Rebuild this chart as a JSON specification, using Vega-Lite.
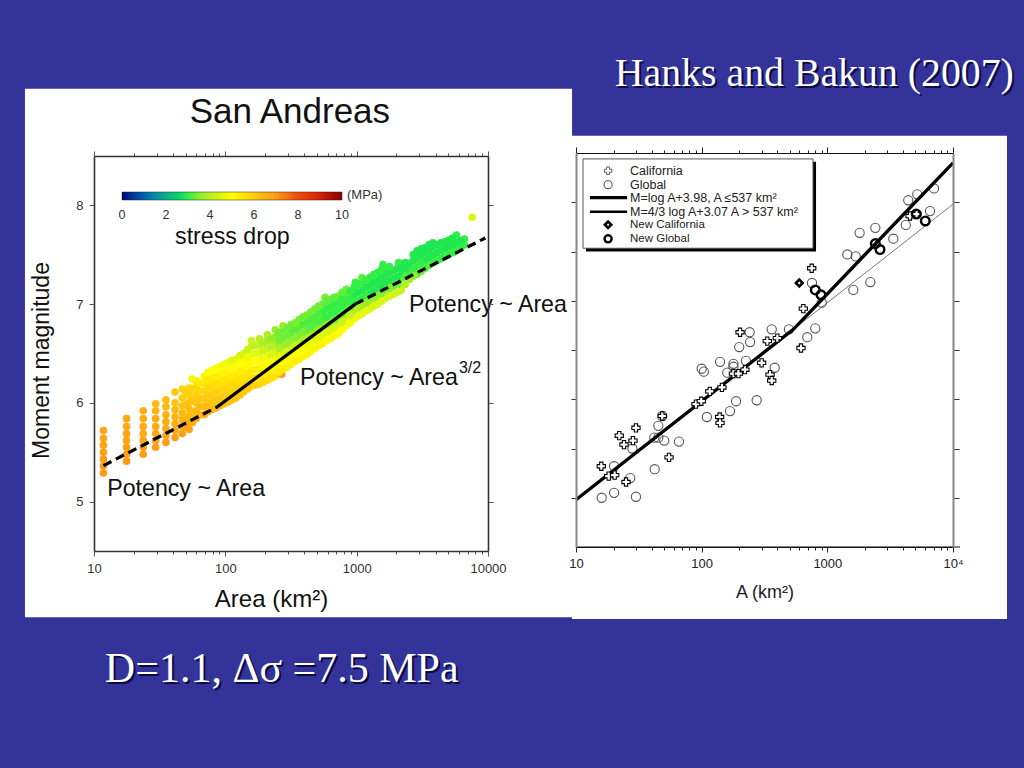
{"$schema":"https://vega.github.io/schema/vega-lite/v6.json","width":1024,"height":768,"padding":0,"autosize":{"type":"none"},"background":"#333399","config":{"view":{"stroke":null},"axis":{"grid":false},"text":{"font":"Liberation Sans","baseline":"alphabetic"}},
"resolve":{"scale":{"x":"independent","y":"independent","color":"independent"},"axis":{"x":"independent","y":"independent"}},
"datasets":{
"scatter":[
{"a":11.8,"m":5.29,"s":7},{"a":11.8,"m":5.36,"s":7},{"a":11.8,"m":5.43,"s":6.9},{"a":11.8,"m":5.5,"s":6.9},{"a":11.8,"m":5.57,"s":6.8},{"a":11.8,"m":5.64,"s":6.8},{"a":11.8,"m":5.72,"s":6.8},
{"a":17.7,"m":5.41,"s":7},{"a":17.7,"m":5.48,"s":7},{"a":17.7,"m":5.55,"s":6.9},{"a":17.7,"m":5.62,"s":6.8},{"a":17.7,"m":5.69,"s":6.8},{"a":17.7,"m":5.76,"s":6.7},{"a":17.7,"m":5.84,"s":6.7},
{"a":23.7,"m":5.48,"s":7},{"a":23.7,"m":5.55,"s":6.9},{"a":23.7,"m":5.62,"s":6.8},{"a":23.7,"m":5.69,"s":6.7},{"a":23.7,"m":5.76,"s":6.7},{"a":23.7,"m":5.84,"s":6.6},{"a":23.7,"m":5.92,"s":6.6},
{"a":29.5,"m":5.55,"s":6.9},{"a":29.5,"m":5.62,"s":6.8},{"a":29.5,"m":5.69,"s":6.7},{"a":29.5,"m":5.76,"s":6.7},{"a":29.5,"m":5.84,"s":6.6},{"a":29.5,"m":5.92,"s":6.5},{"a":29.5,"m":5.99,"s":6.4},
{"a":35.3,"m":5.6,"s":6.9},{"a":35.3,"m":5.67,"s":6.8},{"a":35.3,"m":5.74,"s":6.7},{"a":35.3,"m":5.81,"s":6.6},{"a":35.3,"m":5.88,"s":6.5},{"a":35.3,"m":5.96,"s":6.4},{"a":35.3,"m":6.03,"s":6.3},
{"a":41.4,"m":5.65,"s":6.9},{"a":41.4,"m":5.72,"s":6.7},{"a":41.4,"m":5.79,"s":6.6},{"a":41.4,"m":5.86,"s":6.5},{"a":41.4,"m":5.93,"s":6.4},{"a":41.4,"m":6.0,"s":6.2},{"a":41.4,"m":6.11,"s":6.1},
{"a":47,"m":5.69,"s":6.9},{"a":47,"m":5.76,"s":6.7},{"a":47,"m":5.83,"s":6.5},{"a":47,"m":5.9,"s":6.4},{"a":47,"m":5.97,"s":6.2},{"a":47,"m":6.05,"s":6},{"a":47,"m":6.14,"s":5.9},
{"a":53,"m":5.73,"s":6.8},{"a":53,"m":5.8,"s":6.6},{"a":53,"m":5.87,"s":6.4},{"a":53,"m":5.94,"s":6.3},{"a":53,"m":6.01,"s":6.1},{"a":53,"m":6.08,"s":5.9},{"a":53,"m":6.15,"s":5.7},
{"a":60,"m":5.84,"s":6.6},{"a":60,"m":5.92,"s":6.4},{"a":60,"m":6,"s":6.2},{"a":60,"m":6.08,"s":6},{"a":60,"m":6.16,"s":5.7},{"a":60,"m":6.22,"s":5.4},
{"a":69,"m":5.88,"s":6.5},{"a":69,"m":5.96,"s":6.3},{"a":69,"m":6.04,"s":6.1},{"a":69,"m":6.12,"s":5.8},{"a":69,"m":6.2,"s":5.5},{"a":69,"m":6.27,"s":5.2},
{"a":79,"m":5.93,"s":6.4},{"a":79,"m":6.01,"s":6.2},{"a":79,"m":6.09,"s":6},{"a":79,"m":6.17,"s":5.7},{"a":79,"m":6.25,"s":5.4},{"a":79,"m":6.33,"s":5},
{"a":91,"m":5.97,"s":6.4},{"a":91,"m":6.05,"s":6.1},{"a":91,"m":6.13,"s":5.9},{"a":91,"m":6.21,"s":5.6},{"a":91,"m":6.29,"s":5.3},{"a":91,"m":6.37,"s":4.9},
{"a":105,"m":6.01,"s":6.3},{"a":105,"m":6.09,"s":6},{"a":105,"m":6.17,"s":5.8},{"a":105,"m":6.25,"s":5.5},{"a":105,"m":6.33,"s":5.2},{"a":105,"m":6.41,"s":4.7},
{"a":120,"m":6.05,"s":6.2},{"a":120,"m":6.13,"s":5.9},{"a":120,"m":6.21,"s":5.7},{"a":120,"m":6.29,"s":5.4},{"a":120,"m":6.37,"s":5},{"a":120,"m":6.44,"s":4.6},
{"a":138,"m":6.11,"s":6.1},{"a":138,"m":6.19,"s":5.8},{"a":138,"m":6.27,"s":5.5},{"a":138,"m":6.35,"s":5.2},{"a":138,"m":6.43,"s":4.9},{"a":138,"m":6.5,"s":4.4},
{"a":158,"m":6.17,"s":6},{"a":158,"m":6.25,"s":5.7},{"a":158,"m":6.33,"s":5.4},{"a":158,"m":6.41,"s":5.1},{"a":158,"m":6.49,"s":4.7},{"a":158,"m":6.57,"s":4.2},{"a":158,"m":6.63,"s":4.3},
{"a":182,"m":6.19,"s":5.8},{"a":182,"m":6.27,"s":5.5},{"a":182,"m":6.35,"s":5.2},{"a":182,"m":6.43,"s":4.9},{"a":182,"m":6.51,"s":4.5},{"a":182,"m":6.59,"s":4},{"a":182,"m":6.65,"s":4},
{"a":209,"m":6.23,"s":5.6},{"a":209,"m":6.31,"s":5.3},{"a":209,"m":6.39,"s":5.1},{"a":209,"m":6.47,"s":4.7},{"a":209,"m":6.55,"s":4.2},{"a":209,"m":6.63,"s":3.8},{"a":209,"m":6.69,"s":3.9},
{"a":240,"m":6.27,"s":5.5},{"a":240,"m":6.35,"s":5.2},{"a":240,"m":6.43,"s":4.9},{"a":240,"m":6.51,"s":4.4},{"a":240,"m":6.59,"s":3.8},{"a":240,"m":6.67,"s":3.5},{"a":240,"m":6.74,"s":3.7},
{"a":269,"m":6.29,"s":6.9},{"a":275,"m":6.34,"s":5.3},{"a":275,"m":6.42,"s":5.1},{"a":275,"m":6.5,"s":4.5},{"a":275,"m":6.58,"s":3.8},{"a":275,"m":6.66,"s":3.3},{"a":275,"m":6.74,"s":3.3},{"a":275,"m":6.78,"s":3.7},
{"a":316,"m":6.39,"s":5.3},{"a":316,"m":6.47,"s":5},{"a":316,"m":6.55,"s":4.3},{"a":316,"m":6.63,"s":3.6},{"a":316,"m":6.71,"s":3.2},{"a":316,"m":6.79,"s":3.3},
{"a":363,"m":6.44,"s":5.3},{"a":363,"m":6.52,"s":4.9},{"a":363,"m":6.6,"s":4.1},{"a":363,"m":6.68,"s":3.4},{"a":363,"m":6.76,"s":3.2},{"a":363,"m":6.84,"s":3.4},
{"a":417,"m":6.49,"s":5.2},{"a":417,"m":6.57,"s":4.8},{"a":417,"m":6.65,"s":3.9},{"a":417,"m":6.73,"s":3.3},{"a":417,"m":6.81,"s":3.1},{"a":417,"m":6.89,"s":3.4},
{"a":479,"m":6.55,"s":5.2},{"a":479,"m":6.63,"s":4.7},{"a":479,"m":6.71,"s":3.7},{"a":479,"m":6.79,"s":3.2},{"a":479,"m":6.87,"s":3.1},{"a":479,"m":6.95,"s":3.4},
{"a":550,"m":6.6,"s":5.2},{"a":550,"m":6.68,"s":4.6},{"a":550,"m":6.76,"s":3.6},{"a":550,"m":6.84,"s":3.1},{"a":550,"m":6.92,"s":3},{"a":550,"m":7,"s":3.3},{"a":575,"m":7.07,"s":3.4},
{"a":631,"m":6.65,"s":5.1},{"a":631,"m":6.73,"s":4.5},{"a":631,"m":6.81,"s":3.5},{"a":631,"m":6.89,"s":3},{"a":631,"m":6.97,"s":3},{"a":631,"m":7.05,"s":3.3},
{"a":724,"m":6.7,"s":5.1},{"a":724,"m":6.78,"s":4.4},{"a":724,"m":6.86,"s":3.4},{"a":724,"m":6.94,"s":3},{"a":724,"m":7.02,"s":3},{"a":724,"m":7.08,"s":3.3},
{"a":832,"m":6.78,"s":5},{"a":832,"m":6.86,"s":4.3},{"a":832,"m":6.94,"s":3.2},{"a":832,"m":7.02,"s":3},{"a":832,"m":7.1,"s":3.1},{"a":832,"m":7.15,"s":3.3},
{"a":955,"m":6.85,"s":4.8},{"a":955,"m":6.93,"s":4},{"a":955,"m":7.01,"s":3},{"a":955,"m":7.09,"s":2.9},{"a":955,"m":7.17,"s":3},{"a":977,"m":7.22,"s":3},
{"a":1096,"m":6.9,"s":4.6},{"a":1096,"m":6.98,"s":3.8},{"a":1096,"m":7.06,"s":3},{"a":1096,"m":7.14,"s":2.9},{"a":1096,"m":7.22,"s":3},{"a":1096,"m":7.27,"s":3.2},
{"a":1259,"m":6.95,"s":4.5},{"a":1259,"m":7.03,"s":3.6},{"a":1259,"m":7.11,"s":2.9},{"a":1259,"m":7.19,"s":2.9},{"a":1259,"m":7.27,"s":3},
{"a":1445,"m":7,"s":4.5},{"a":1445,"m":7.08,"s":3.6},{"a":1445,"m":7.16,"s":2.9},{"a":1445,"m":7.24,"s":2.9},{"a":1445,"m":7.32,"s":3},{"a":1585,"m":7.4,"s":3},
{"a":1660,"m":7.06,"s":4.4},{"a":1660,"m":7.14,"s":3.5},{"a":1660,"m":7.22,"s":2.9},{"a":1660,"m":7.3,"s":2.9},{"a":1660,"m":7.36,"s":3},
{"a":1905,"m":7.1,"s":4.4},{"a":1905,"m":7.18,"s":3.3},{"a":1905,"m":7.26,"s":2.9},{"a":1905,"m":7.34,"s":2.9},{"a":2089,"m":7.42,"s":3},
{"a":2188,"m":7.14,"s":4.3},{"a":2188,"m":7.22,"s":3.2},{"a":2188,"m":7.3,"s":2.9},{"a":2188,"m":7.37,"s":2.9},
{"a":2512,"m":7.25,"s":3.8},{"a":2512,"m":7.33,"s":3},{"a":2512,"m":7.41,"s":2.9},
{"a":2884,"m":7.3,"s":3.4},{"a":2884,"m":7.38,"s":3},{"a":2884,"m":7.46,"s":2.9},{"a":2884,"m":7.54,"s":2.9},
{"a":3311,"m":7.36,"s":3.2},{"a":3311,"m":7.44,"s":2.9},{"a":3311,"m":7.52,"s":2.9},{"a":3311,"m":7.57,"s":2.9},
{"a":3802,"m":7.42,"s":3.1},{"a":3802,"m":7.5,"s":2.9},{"a":3802,"m":7.58,"s":2.9},{"a":3802,"m":7.62,"s":2.9},
{"a":4365,"m":7.46,"s":3},{"a":4365,"m":7.54,"s":2.9},{"a":4365,"m":7.62,"s":2.9},
{"a":5012,"m":7.5,"s":3},{"a":5012,"m":7.58,"s":2.9},{"a":5012,"m":7.65,"s":2.9},
{"a":5754,"m":7.54,"s":3},{"a":5754,"m":7.62,"s":2.9},{"a":5754,"m":7.7,"s":3},
{"a":6607,"m":7.6,"s":3},{"a":6607,"m":7.66,"s":3},{"a":7590,"m":7.88,"s":4.5},
{"a":50,"m":5.75,"s":6.7},{"a":50,"m":5.86,"s":6.4},{"a":50,"m":5.98,"s":6.2},{"a":50,"m":6.1,"s":5.9},
{"a":56,"m":5.8,"s":6.6},{"a":56,"m":5.9,"s":6.3},{"a":56,"m":6.02,"s":6.1},{"a":56,"m":6.14,"s":5.8},{"a":56,"m":6.24,"s":5.2},
{"a":64,"m":5.88,"s":6.5},{"a":64,"m":5.96,"s":6.3},{"a":64,"m":6.04,"s":6.1},{"a":64,"m":6.12,"s":5.8},{"a":64,"m":6.2,"s":5.4},
{"a":74,"m":5.91,"s":6.4},{"a":74,"m":5.99,"s":6.2},{"a":74,"m":6.07,"s":6},{"a":74,"m":6.15,"s":5.7},{"a":74,"m":6.23,"s":5.4},{"a":74,"m":6.31,"s":5},
{"a":85,"m":5.95,"s":6.4},{"a":85,"m":6.03,"s":6.1},{"a":85,"m":6.11,"s":5.9},{"a":85,"m":6.19,"s":5.6},{"a":85,"m":6.27,"s":5.3},{"a":85,"m":6.35,"s":4.9},
{"a":98,"m":5.99,"s":6.3},{"a":98,"m":6.07,"s":6},{"a":98,"m":6.15,"s":5.8},{"a":98,"m":6.23,"s":5.5},{"a":98,"m":6.31,"s":5.2},{"a":98,"m":6.39,"s":4.8},
{"a":112,"m":6.03,"s":6.2},{"a":112,"m":6.11,"s":5.9},{"a":112,"m":6.19,"s":5.7},{"a":112,"m":6.27,"s":5.4},{"a":112,"m":6.35,"s":5.1},{"a":112,"m":6.43,"s":4.6},
{"a":129,"m":6.08,"s":6.1},{"a":129,"m":6.16,"s":5.8},{"a":129,"m":6.24,"s":5.5},{"a":129,"m":6.32,"s":5.3},{"a":129,"m":6.4,"s":5},{"a":129,"m":6.48,"s":4.5},
{"a":148,"m":6.14,"s":6},{"a":148,"m":6.22,"s":5.7},{"a":148,"m":6.3,"s":5.4},{"a":148,"m":6.38,"s":5.1},{"a":148,"m":6.46,"s":4.8},{"a":148,"m":6.54,"s":4.3},
{"a":170,"m":6.18,"s":5.9},{"a":170,"m":6.26,"s":5.6},{"a":170,"m":6.34,"s":5.3},{"a":170,"m":6.42,"s":5},{"a":170,"m":6.5,"s":4.6},{"a":170,"m":6.58,"s":4.1},
{"a":195,"m":6.21,"s":5.7},{"a":195,"m":6.29,"s":5.4},{"a":195,"m":6.37,"s":5.1},{"a":195,"m":6.45,"s":4.8},{"a":195,"m":6.53,"s":4.3},{"a":195,"m":6.61,"s":3.9},
{"a":224,"m":6.25,"s":5.6},{"a":224,"m":6.33,"s":5.3},{"a":224,"m":6.41,"s":5},{"a":224,"m":6.49,"s":4.5},{"a":224,"m":6.57,"s":4},{"a":224,"m":6.65,"s":3.6},
{"a":257,"m":6.31,"s":5.4},{"a":257,"m":6.39,"s":5.1},{"a":257,"m":6.47,"s":4.6},{"a":257,"m":6.55,"s":3.9},{"a":257,"m":6.63,"s":3.4},{"a":257,"m":6.71,"s":3.3},
{"a":295,"m":6.36,"s":5.3},{"a":295,"m":6.44,"s":5},{"a":295,"m":6.52,"s":4.4},{"a":295,"m":6.6,"s":3.7},{"a":295,"m":6.68,"s":3.3},{"a":295,"m":6.76,"s":3.3},
{"a":339,"m":6.42,"s":5.3},{"a":339,"m":6.5,"s":4.9},{"a":339,"m":6.58,"s":4.2},{"a":339,"m":6.66,"s":3.5},{"a":339,"m":6.74,"s":3.2},{"a":339,"m":6.81,"s":3.4},
{"a":389,"m":6.47,"s":5.2},{"a":389,"m":6.55,"s":4.8},{"a":389,"m":6.63,"s":4},{"a":389,"m":6.71,"s":3.4},{"a":389,"m":6.79,"s":3.1},{"a":389,"m":6.87,"s":3.3},
{"a":447,"m":6.52,"s":5.2},{"a":447,"m":6.6,"s":4.7},{"a":447,"m":6.68,"s":3.8},{"a":447,"m":6.76,"s":3.2},{"a":447,"m":6.84,"s":3.1},{"a":447,"m":6.92,"s":3.3},
{"a":513,"m":6.58,"s":5.2},{"a":513,"m":6.66,"s":4.6},{"a":513,"m":6.74,"s":3.6},{"a":513,"m":6.82,"s":3.1},{"a":513,"m":6.9,"s":3.1},{"a":513,"m":6.98,"s":3.3},
{"a":589,"m":6.63,"s":5.1},{"a":589,"m":6.71,"s":4.5},{"a":589,"m":6.79,"s":3.5},{"a":589,"m":6.87,"s":3},{"a":589,"m":6.95,"s":3},{"a":589,"m":7.03,"s":3.2},
{"a":676,"m":6.68,"s":5.1},{"a":676,"m":6.76,"s":4.4},{"a":676,"m":6.84,"s":3.4},{"a":676,"m":6.92,"s":3},{"a":676,"m":7,"s":3},{"a":676,"m":7.07,"s":3.2},
{"a":776,"m":6.74,"s":5},{"a":776,"m":6.82,"s":4.3},{"a":776,"m":6.9,"s":3.3},{"a":776,"m":6.98,"s":3},{"a":776,"m":7.06,"s":3},{"a":776,"m":7.12,"s":3.2},
{"a":891,"m":6.81,"s":4.9},{"a":891,"m":6.89,"s":4.2},{"a":891,"m":6.97,"s":3.1},{"a":891,"m":7.05,"s":3},{"a":891,"m":7.13,"s":3},
{"a":1023,"m":6.88,"s":4.7},{"a":1023,"m":6.96,"s":3.9},{"a":1023,"m":7.04,"s":3},{"a":1023,"m":7.12,"s":2.9},{"a":1023,"m":7.2,"s":3},
{"a":1175,"m":6.93,"s":4.6},{"a":1175,"m":7.01,"s":3.7},{"a":1175,"m":7.09,"s":3},{"a":1175,"m":7.17,"s":2.9},{"a":1175,"m":7.25,"s":3},
{"a":1349,"m":6.98,"s":4.5},{"a":1349,"m":7.06,"s":3.6},{"a":1349,"m":7.14,"s":2.9},{"a":1349,"m":7.22,"s":2.9},{"a":1349,"m":7.3,"s":3},
{"a":1549,"m":7.03,"s":4.4},{"a":1549,"m":7.11,"s":3.5},{"a":1549,"m":7.19,"s":2.9},{"a":1549,"m":7.27,"s":2.9},{"a":1549,"m":7.35,"s":3},
{"a":1778,"m":7.08,"s":4.4},{"a":1778,"m":7.16,"s":3.4},{"a":1778,"m":7.24,"s":2.9},{"a":1778,"m":7.32,"s":2.9},{"a":1778,"m":7.38,"s":3},
{"a":2042,"m":7.12,"s":4.3},{"a":2042,"m":7.2,"s":3.3},{"a":2042,"m":7.28,"s":2.9},{"a":2042,"m":7.36,"s":2.9},
{"a":2344,"m":7.2,"s":4},{"a":2344,"m":7.28,"s":3.1},{"a":2344,"m":7.36,"s":2.9},{"a":2344,"m":7.42,"s":2.9},
{"a":2692,"m":7.28,"s":3.6},{"a":2692,"m":7.36,"s":3},{"a":2692,"m":7.44,"s":2.9},{"a":2692,"m":7.5,"s":2.9},
{"a":3090,"m":7.33,"s":3.3},{"a":3090,"m":7.41,"s":3},{"a":3090,"m":7.49,"s":2.9},{"a":3090,"m":7.56,"s":2.9},
{"a":3548,"m":7.39,"s":3.1},{"a":3548,"m":7.47,"s":2.9},{"a":3548,"m":7.55,"s":2.9},{"a":3548,"m":7.6,"s":2.9},
{"a":4074,"m":7.44,"s":3},{"a":4074,"m":7.52,"s":2.9},{"a":4074,"m":7.6,"s":2.9},
{"a":4677,"m":7.48,"s":3},{"a":4677,"m":7.56,"s":2.9},{"a":4677,"m":7.63,"s":2.9},
{"a":5370,"m":7.52,"s":3},{"a":5370,"m":7.6,"s":2.9},{"a":5370,"m":7.67,"s":2.9},
{"a":6166,"m":7.57,"s":3},{"a":6166,"m":7.64,"s":2.9}
],
"global":[{"a":16,"m":5},{"a":20.1,"m":5.05},{"a":30,"m":5.01},{"a":27,"m":5.2},{"a":20.1,"m":5.32},{"a":42.3,"m":5.29},{"a":28.1,"m":5.5},{"a":50.4,"m":5.58},{"a":66,"m":5.57},{"a":42,"m":5.61},{"a":45.2,"m":5.61},{"a":45.2,"m":5.73},{"a":48.6,"m":5.83},{"a":110,"m":5.82},{"a":100,"m":6.31},{"a":104,"m":6.28},{"a":140,"m":6.38},{"a":160,"m":6.27},{"a":168,"m":5.88},{"a":188,"m":5.98},{"a":274,"m":5.99},{"a":179,"m":6.36},{"a":179,"m":6.33},{"a":225,"m":6.39},{"a":199,"m":6.53},{"a":243,"m":6.58},{"a":241,"m":6.68},{"a":361,"m":6.71},{"a":495,"m":6.71},{"a":381,"m":6.32},{"a":693,"m":6.63},{"a":802,"m":6.72},{"a":755,"m":7.18},{"a":903,"m":6.98},{"a":1610,"m":7.11},{"a":2198,"m":7.19},{"a":1442,"m":7.47},{"a":1682,"m":7.45},{"a":1807,"m":7.69},{"a":2410,"m":7.74},{"a":3350,"m":7.63},{"a":4207,"m":7.77},{"a":4405,"m":8.02},{"a":5200,"m":8.08},{"a":7063,"m":8.14},{"a":6561,"m":7.91}],
"california":[{"a":15.9,"m":5.32},{"a":18.2,"m":5.22},{"a":20.3,"m":5.23},{"a":25,"m":5.16},{"a":55,"m":5.41},{"a":22.1,"m":5.63},{"a":24.1,"m":5.54},{"a":28.4,"m":5.58},{"a":30,"m":5.71},{"a":48.6,"m":5.83},{"a":90.1,"m":5.95},{"a":99.3,"m":5.98},{"a":116,"m":6.08},{"a":145,"m":6.12},{"a":139,"m":5.82},{"a":140,"m":5.76},{"a":179,"m":6.26},{"a":196,"m":6.26},{"a":221,"m":6.3},{"a":202,"m":6.68},{"a":333,"m":6.59},{"a":400,"m":6.62},{"a":300,"m":6.37},{"a":350,"m":6.25},{"a":361,"m":6.19},{"a":617,"m":6.52},{"a":644,"m":6.92},{"a":751,"m":7.33},{"a":4550,"m":7.86},{"a":5140,"m":7.88}],
"newGlobal":[{"a":802,"m":7.11},{"a":891,"m":7.06},{"a":2410,"m":7.58},{"a":2624,"m":7.52},{"a":5100,"m":7.88},{"a":6020,"m":7.81}],
"newCalifornia":[{"a":598,"m":7.18}]
},
"layer":[
{"encoding":{
 "x":{"field":"a","type":"quantitative","scale":{"type":"log","domain":[10,10000],"range":[94,488],"nice":false},"axis":{"orient":"bottom","offset":-217,"zindex":1,"values":[10,20,30,40,50,60,70,80,90,100,200,300,400,500,600,700,800,900,1000,2000,3000,4000,5000,6000,7000,8000,9000,10000],"format":"d","labelExpr":"indexof([10,100,1000,10000],datum.value)>=0?datum.label:''","labelOverlap":false,"labelFlush":false,"labelBound":false,"labelFontSize":13,"labelFont":"Liberation Sans","labelColor":"#333333","labelPadding":6,"tickSize":{"condition":{"test":"indexof([10,100,1000,10000],datum.value)>=0","value":5},"value":3},"tickColor":"#555555","domainColor":"#333333","domainWidth":1.6,"title":"Area (km²)","titleX":271,"titleFont":"Liberation Sans","titleFontSize":24,"titleFontWeight":"normal","titleColor":"#111111","titlePadding":12}},
 "y":{"field":"m","type":"quantitative","scale":{"domain":[4.5,8.5],"range":[551,156],"nice":false,"zero":false},"axis":{"orient":"left","offset":-94,"zindex":1,"values":[5,6,7,8],"format":"d","labelFontSize":13,"labelFont":"Liberation Sans","labelColor":"#333333","labelPadding":6,"tickSize":5,"tickColor":"#555555","domainColor":"#333333","domainWidth":1.6,"title":"Moment magnitude","titleY":360,"titleFont":"Liberation Sans","titleFontSize":23,"titleFontWeight":"normal","titleColor":"#111111","titlePadding":22}}
 },
 "layer":[
 {"data":{"values":[{"a":2.98,"a2":43650,"m":3.83,"m2":9.18}]},"mark":{"type":"rect","fill":"#ffffff"},"encoding":{"x2":{"field":"a2"},"y2":{"field":"m2"}}},
 {"data":{"name":"scatter"},"mark":{"type":"point","filled":true,"size":58,"opacity":1},"encoding":{"color":{"field":"s","type":"quantitative","scale":{"domain":[0,1,2,3,4,5,6,7,8,9,10],"range":["#000080","#0060b0","#10b080","#33ee44","#b8ee22","#ffff00","#ffcc10","#ff9a1a","#f04a10","#d82000","#880000"]},"legend":{"type":"gradient","orient":"none","legendX":122,"legendY":192,"direction":"horizontal","gradientLength":220,"gradientThickness":8,"gradientStrokeColor":"#222222","gradientStrokeWidth":0.5,"values":[0,2,4,6,8,10],"title":null,"labelFont":"Liberation Sans","labelFontSize":12.5,"labelColor":"#333333","labelOffset":9,"encoding":{"labels":{"align":{"value":"center"}}}}}}},
 {"data":{"values":[{"a":87,"m":5.96},{"a":975,"m":7.0}]},"mark":{"type":"line","color":"#000000","strokeWidth":3.2}},
 {"data":{"values":[{"a":11.8,"m":5.365},{"a":87,"m":5.96}]},"mark":{"type":"line","color":"#000000","strokeWidth":3.2,"strokeDash":[9,5]}},
 {"data":{"values":[{"a":975,"m":7.0},{"a":9550,"m":7.67}]},"mark":{"type":"line","color":"#000000","strokeWidth":3.2,"strokeDash":[9,5]}},
 {"data":{"values":[{"a":310,"m":8.834,"t":"San Andreas"}]},"mark":{"type":"text","fontSize":35,"color":"#111111","align":"center"},"encoding":{"text":{"field":"t"}}},
 {"data":{"values":[{"a":12.6,"m":5.06,"t":"Potency ~ Area"},{"a":2503,"m":6.924,"t":"Potency ~ Area"},{"a":370,"m":6.185,"t":"Potency ~ Area"},{"a":41.4,"m":7.605,"t":"stress drop"}]},"mark":{"type":"text","fontSize":23.2,"color":"#111111","align":"left"},"encoding":{"text":{"field":"t"}}},
 {"data":{"values":[{"a":6010,"m":6.306,"t":"3/2"}]},"mark":{"type":"text","fontSize":16,"color":"#111111","align":"left"},"encoding":{"text":{"field":"t"}}},
 {"data":{"values":[{"a":844,"m":8.06,"t":"(MPa)"}]},"mark":{"type":"text","fontSize":13,"color":"#333333","align":"left"},"encoding":{"text":{"field":"t"}}},
 {"data":{"values":[{"a":12.1,"m":3.173,"t":"D=1.1, Δσ =7.5 MPa"}]},"mark":{"type":"text","font":"Liberation Serif","fontSize":42,"color":"#0a0a40","align":"left","dx":2,"dy":2},"encoding":{"text":{"field":"t"}}},
 {"data":{"values":[{"a":12.1,"m":3.173,"t":"D=1.1, Δσ =7.5 MPa"}]},"mark":{"type":"text","font":"Liberation Serif","fontSize":42,"color":"#ffffff","align":"left"},"encoding":{"text":{"field":"t"}}}
 ]
},
{"data":{"values":[{"a":10,"m":8.5}]},"mark":{"type":"point","opacity":0},"encoding":{
 "x":{"field":"a","type":"quantitative","scale":{"type":"log","domain":[10,10000],"range":[94,488],"nice":false},"axis":{"orient":"top","offset":-156,"zindex":1,"values":[10,20,30,40,50,60,70,80,90,100,200,300,400,500,600,700,800,900,1000,2000,3000,4000,5000,6000,7000,8000,9000,10000],"labels":false,"title":null,"tickSize":{"condition":{"test":"indexof([10,100,1000,10000],datum.value)>=0","value":5},"value":3},"tickColor":"#555555","domainColor":"#333333","domainWidth":1.6}},
 "y":{"field":"m","type":"quantitative","scale":{"domain":[4.5,8.5],"range":[551,156],"nice":false,"zero":false},"axis":{"orient":"right","offset":-536,"zindex":1,"values":[5,6,7,8],"labels":false,"title":null,"tickSize":5,"tickColor":"#555555","domainColor":"#333333","domainWidth":1.6}}
}},
{"encoding":{
 "x":{"field":"a","type":"quantitative","scale":{"type":"log","domain":[10,10000],"range":[576,953],"nice":false},"axis":{"orient":"bottom","offset":-221,"zindex":1,"values":[10,20,30,40,50,60,70,80,90,100,200,300,400,500,600,700,800,900,1000,2000,3000,4000,5000,6000,7000,8000,9000,10000],"format":"d","labelExpr":"datum.value==10000?'10⁴':indexof([10,100,1000],datum.value)>=0?datum.label:''","labelOverlap":false,"labelFlush":false,"labelBound":false,"labelFontSize":13,"labelFont":"Liberation Sans","labelColor":"#222222","labelPadding":5,"tickSize":{"condition":{"test":"indexof([10,100,1000,10000],datum.value)>=0","value":5},"value":3},"tickColor":"#222222","domainColor":"#111111","domainWidth":1.2,"title":"A (km²)","titleFont":"Liberation Sans","titleFontSize":18,"titleFontWeight":"normal","titleColor":"#222222","titlePadding":13}},
 "y":{"field":"m","type":"quantitative","scale":{"domain":[4.5,8.5],"range":[547,153],"nice":false,"zero":false},"axis":{"orient":"left","offset":-576,"zindex":1,"values":[5,5.5,6,6.5,7,7.5,8],"labels":false,"title":null,"tickSize":5,"tickColor":"#333333","domainColor":"#888888","domainWidth":2}}
 },
 "layer":[
 {"data":{"values":[{"a":9.29,"a2":26900,"m":3.77,"m2":8.675}]},"mark":{"type":"rect","fill":"#ffffff"},"encoding":{"x2":{"field":"a2"},"y2":{"field":"m2"}}},
 {"data":{"values":[{"a":10,"a2":11370,"m":4.5}]},"mark":{"type":"rule","color":"#111111","strokeWidth":1.2},"encoding":{"x2":{"field":"a2"}}},
 {"data":{"values":[{"a":537,"m":6.71},{"a":10000,"m":7.98}]},"mark":{"type":"line","color":"#777777","strokeWidth":1}},
 {"data":{"name":"global"},"mark":{"type":"point","shape":"circle","size":85,"stroke":"#555555","strokeWidth":1.1,"fill":null,"opacity":1}},
 {"data":{"values":[{"a":10,"m":4.98},{"a":537,"m":6.71},{"a":10000,"m":8.4}]},"mark":{"type":"line","color":"#000000","strokeWidth":3.4}},
 {"data":{"name":"california"},"mark":{"type":"point","shape":"cross","size":68,"filled":true,"fill":"#ffffff","stroke":"#000000","strokeWidth":1.1,"opacity":1}},
 {"data":{"name":"newGlobal"},"mark":{"type":"point","shape":"circle","size":75,"stroke":"#000000","strokeWidth":2.4,"fill":null,"opacity":1}},
 {"data":{"name":"newCalifornia"},"mark":{"type":"point","shape":"diamond","size":45,"filled":true,"fill":"#ffffff","stroke":"#000000","strokeWidth":2.6,"opacity":1}},
 {"data":{"values":[{"a":12,"a2":813,"m":8.41,"m2":7.5}]},"mark":{"type":"rect","fill":"#000000"},"encoding":{"x2":{"field":"a2"},"y2":{"field":"m2"}}},
 {"data":{"values":[{"a":11.37,"a2":769,"m":8.44,"m2":7.533}]},"mark":{"type":"rect","fill":"#ffffff","stroke":"#555555","strokeWidth":1},"encoding":{"x2":{"field":"a2"},"y2":{"field":"m2"}}},
 {"data":{"values":[{"a":18,"m":8.32}]},"mark":{"type":"point","shape":"cross","size":55,"filled":true,"fill":"#ffffff","stroke":"#333333","strokeWidth":0.8,"opacity":1}},
 {"data":{"values":[{"a":18,"m":8.178}]},"mark":{"type":"point","shape":"circle","size":65,"stroke":"#444444","strokeWidth":1,"fill":null,"opacity":1}},
 {"data":{"values":[{"a":18,"m":7.772}]},"mark":{"type":"point","shape":"diamond","size":40,"filled":true,"fill":"#ffffff","stroke":"#000000","strokeWidth":2.6,"opacity":1}},
 {"data":{"values":[{"a":18,"m":7.629}]},"mark":{"type":"point","shape":"circle","size":50,"stroke":"#000000","strokeWidth":2.4,"fill":null,"opacity":1}},
 {"data":{"values":[{"a":12.9,"a2":25.5,"m":8.046}]},"mark":{"type":"rule","color":"#000000","strokeWidth":3.2},"encoding":{"x2":{"field":"a2"}}},
 {"data":{"values":[{"a":12.9,"a2":25.5,"m":7.904}]},"mark":{"type":"rule","color":"#000000","strokeWidth":2.4},"encoding":{"x2":{"field":"a2"}}},
 {"data":{"values":[{"a":26.9,"m":8.32,"t":"California"},{"a":26.9,"m":8.178,"t":"Global"},{"a":26.9,"m":8.046,"t":"M=log A+3.98, A ≤537 km²"},{"a":26.9,"m":7.904,"t":"M=4/3 log A+3.07   A > 537 km²"}]},"mark":{"type":"text","fontSize":12.5,"color":"#222222","align":"left","baseline":"middle"},"encoding":{"text":{"field":"t"}}},
 {"data":{"values":[{"a":26.9,"m":7.772,"t":"New California"},{"a":26.9,"m":7.629,"t":"New Global"}]},"mark":{"type":"text","fontSize":11.5,"color":"#222222","align":"left","baseline":"middle"},"encoding":{"text":{"field":"t"}}},
 {"data":{"values":[{"a":30500,"m":9.18,"t":"Hanks and Bakun (2007)"}]},"mark":{"type":"text","font":"Liberation Serif","fontSize":39.8,"color":"#0a0a40","align":"right","dx":2,"dy":2},"encoding":{"text":{"field":"t"}}},
 {"data":{"values":[{"a":30500,"m":9.18,"t":"Hanks and Bakun (2007)"}]},"mark":{"type":"text","font":"Liberation Serif","fontSize":39.8,"color":"#ffffff","align":"right"},"encoding":{"text":{"field":"t"}}}
 ]
},
{"data":{"values":[{"a":10,"m":8.5}]},"mark":{"type":"point","opacity":0},"encoding":{
 "x":{"field":"a","type":"quantitative","scale":{"type":"log","domain":[10,10000],"range":[576,953],"nice":false},"axis":{"orient":"top","offset":-153,"zindex":1,"values":[10,20,30,40,50,60,70,80,90,100,200,300,400,500,600,700,800,900,1000,2000,3000,4000,5000,6000,7000,8000,9000,10000],"labels":false,"title":null,"tickSize":{"condition":{"test":"indexof([10,100,1000,10000],datum.value)>=0","value":6},"value":3},"tickColor":"#222222","domainColor":"#111111","domainWidth":1.2}},
 "y":{"field":"m","type":"quantitative","scale":{"domain":[4.5,8.5],"range":[547,153],"nice":false,"zero":false},"axis":{"orient":"right","offset":-71,"zindex":1,"values":[5,5.5,6,6.5,7,7.5,8],"labels":false,"title":null,"tickSize":6,"tickColor":"#333333","domainColor":"#888888","domainWidth":2}}
}}
]}
